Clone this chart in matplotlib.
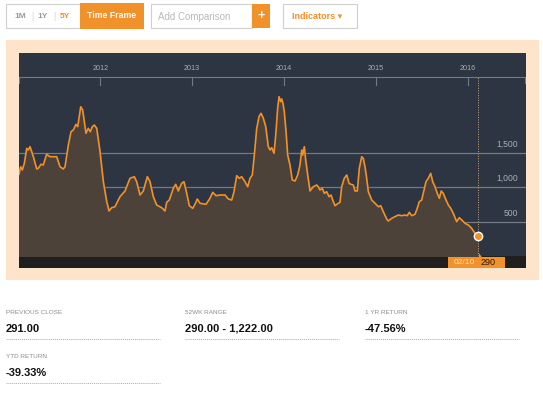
import matplotlib.pyplot as plt
import numpy as np
from matplotlib.patches import Rectangle, Polygon

plt.rcParams["font.family"] = ["Liberation Sans", "DejaVu Sans"]

# price series, decimal years (Feb 2011 - Feb 2016)
years = [
    2011.115, 2011.133, 2011.151, 2011.173, 2011.199, 2011.216, 2011.235, 2011.271,
    2011.308, 2011.325, 2011.354, 2011.379, 2011.416, 2011.452, 2011.525, 2011.561,
    2011.597, 2011.616, 2011.652, 2011.681, 2011.706, 2011.735, 2011.754, 2011.787,
    2011.808, 2011.826, 2011.844, 2011.869, 2011.891, 2011.913, 2011.935, 2011.961,
    2011.997, 2012.033, 2012.070, 2012.095, 2012.124, 2012.160, 2012.214, 2012.269,
    2012.323, 2012.370, 2012.396, 2012.432, 2012.468, 2012.512, 2012.541, 2012.577,
    2012.614, 2012.668, 2012.704, 2012.723, 2012.751, 2012.795, 2012.821, 2012.849,
    2012.886, 2012.911, 2012.941, 2012.969, 2013.006, 2013.031, 2013.056, 2013.085,
    2013.151, 2013.194, 2013.224, 2013.260, 2013.303, 2013.358, 2013.394, 2013.431,
    2013.456, 2013.485, 2013.513, 2013.539, 2013.575, 2013.605, 2013.630, 2013.655,
    2013.677, 2013.703, 2013.728, 2013.750, 2013.775, 2013.801, 2013.829, 2013.848,
    2013.866, 2013.891, 2013.910, 2013.931, 2013.946, 2013.964, 2013.975, 2013.989,
    2014.003, 2014.022, 2014.040, 2014.065, 2014.090, 2014.120, 2014.149, 2014.174,
    2014.193, 2014.204, 2014.221, 2014.236, 2014.258, 2014.283, 2014.319, 2014.356,
    2014.373, 2014.392, 2014.417, 2014.439, 2014.465, 2014.490, 2014.512, 2014.530,
    2014.555, 2014.591, 2014.610, 2014.628, 2014.656, 2014.683, 2014.708, 2014.729,
    2014.754, 2014.773, 2014.798, 2014.820, 2014.846, 2014.863, 2014.882, 2014.900,
    2014.918, 2014.955, 2014.991, 2015.027, 2015.053, 2015.081, 2015.118, 2015.135,
    2015.172, 2015.208, 2015.244, 2015.281, 2015.317, 2015.342, 2015.364, 2015.390,
    2015.426, 2015.451, 2015.473, 2015.499, 2015.524, 2015.546, 2015.571, 2015.597,
    2015.619, 2015.644, 2015.669, 2015.691, 2015.712, 2015.734, 2015.764, 2015.789,
    2015.815, 2015.843, 2015.880, 2015.908, 2015.935, 2015.971, 2016.007, 2016.043,
    2016.079, 2016.110,
]
prices = [
    1184, 1294, 1246, 1343, 1560, 1536, 1584, 1439,
    1261, 1271, 1329, 1319, 1474, 1439, 1439, 1294,
    1261, 1294, 1608, 1801, 1826, 1908, 1874, 2163,
    2116, 1946, 1778, 1850, 1801, 1874, 1898, 1850,
    1511, 1077, 787, 652, 700, 714, 859, 942,
    1126, 1149, 1077, 884, 942, 1149, 1077, 859,
    739, 700, 652, 778, 811, 981, 1039, 942,
    1053, 1077, 908, 729, 691, 749, 826, 764,
    749, 836, 923, 874, 884, 884, 826, 811,
    932, 1164, 1126, 1149, 1077, 1004, 1126, 1174,
    1463, 1850, 2019, 2068, 1995, 1874, 1584, 1536,
    1570, 1488, 1753, 2140, 2309, 2236, 2275, 2212,
    2091, 1801, 1463, 1319, 1101, 1087, 1174, 1319,
    1536, 1463, 1584, 1391, 1174, 942, 1004, 1029,
    1004, 956, 981, 908, 932, 859, 884, 811,
    729, 764, 778, 1004, 1126, 1174, 1053, 1039,
    1029, 942, 942, 1271, 1439, 1415, 1290, 1126,
    932, 811, 764, 714, 729, 642, 536, 507,
    546, 570, 594, 584, 594, 584, 633, 584,
    604, 691, 787, 811, 956, 1077, 1126, 1198,
    1077, 1004, 908, 836, 942, 908, 811, 739,
    691, 618, 497, 555, 522, 474, 449, 401,
    329, 290,
]
year_ticks = [2012, 2013, 2014, 2015, 2016]
price_ticks = [500, 1000, 1500]
last_label = "02/10"
last_value = "290"

stat_labels = ["PREVIOUS CLOSE", "52WK RANGE", "1 YR RETURN", "YTD RETURN"]
stat_values = ["291.00", "290.00 - 1,222.00", "-47.56%", "-39.33%"]

ORANGE = "#f0912a"
W, H = 543, 396

fig = plt.figure(figsize=(W / 100, H / 100), dpi=100)
fig.patch.set_facecolor("white")

# overlay axes in pixel coords for the page furniture
page = fig.add_axes([0, 0, 1, 1])
page.set_xlim(0, W)
page.set_ylim(H, 0)
page.axis("off")

# toolbar
page.add_patch(Rectangle((6, 4), 74, 24, fc="white", ec="#cfcfcf", lw=0.8))
page.text(20, 16.5, "1M", color="#9a9a9a", fontsize=6, fontweight="bold", ha="center", va="center")
page.text(32, 16.5, "|", color="#d5d5d5", fontsize=6.5, ha="center", va="center")
page.text(42.5, 16.5, "1Y", color="#9a9a9a", fontsize=6, fontweight="bold", ha="center", va="center")
page.text(54, 16.5, "|", color="#d5d5d5", fontsize=6.5, ha="center", va="center")
page.text(65, 16.5, "5Y", color=ORANGE, fontsize=6, fontweight="bold", ha="center", va="center")
page.add_patch(Rectangle((80, 3), 64, 26, fc=ORANGE, ec="none"))
page.text(112, 16, "Time Frame", color="white", fontsize=6.3, fontweight="bold", ha="center", va="center")
page.add_patch(Rectangle((151, 4), 101, 24, fc="white", ec="#cfcfcf", lw=0.8))
page.text(158, 16.5, "Add Comparison", color="#b9b9b9", fontsize=7, ha="left", va="center")
page.add_patch(Rectangle((252, 4), 18, 24, fc=ORANGE, ec="none"))
page.text(261, 16, "+", color="white", fontsize=9, fontweight="bold", ha="center", va="center")
page.add_patch(Rectangle((283, 4), 74, 24, fc="white", ec="#cfcfcf", lw=0.8))
page.text(317, 16.5, "Indicators \u25be", color=ORANGE, fontsize=6.5, fontweight="bold",
          ha="center", va="center")

# peach panel, dark chart box and bottom strip
page.add_patch(Rectangle((6, 40), 533, 240, fc="#fde4ca", ec="none"))
page.add_patch(Rectangle((19, 53), 507, 215, fc="#2c3541", ec="none"))
page.add_patch(Rectangle((19, 256), 507, 12, fc="#1f1f1f", ec="none"))

# stats block
cols = [6, 185, 365, 6]
rows = [0, 0, 0, 1]
for lab, val, cx, r in zip(stat_labels, stat_values, cols, rows):
    y0 = 312.5 + r * 44.5
    page.text(cx, y0, lab, color="#8c8c8c", fontsize=4.6, ha="left", va="center")
    page.text(cx, y0 + 16, val, color="#111111", fontsize=8, fontweight="bold", ha="left", va="center")
    page.plot([cx, cx + 154], [y0 + 26, y0 + 26], color="#aaaaaa", lw=0.7, ls=(0, (1, 1)))

# chart axes: data 0 sits on top of the black strip
ax = fig.add_axes([19 / W, (H - 256) / H, 507 / W, 203 / H])
ax.set_facecolor("none")
px_per_year = 91.85
x0 = 2011 + (19 - 8.45) / px_per_year
x1 = 2011 + (526 - 8.45) / px_per_year
ymax = 203 * 500 / 34.5
ax.set_xlim(x0, x1)
ax.set_ylim(0, ymax)
for s in ax.spines.values():
    s.set_visible(False)
ax.set_xticks([])
ax.set_yticks([])

yv = lambda py: (256 - py) * 500 / 34.5

for t in price_ticks:
    ax.axhline(t, color="#737a83", lw=0.9, zorder=1)
    ax.text(x0 + (518 - 19) / px_per_year, t + 120, f"{t:,}", color="#a9aeb5", fontsize=6.2,
            ha="right", va="center")

# top time axis
ax.axhline(yv(77), color="#737a83", lw=0.8, zorder=1)
for yr in year_ticks:
    ax.plot([yr, yr], [yv(77), yv(85)], color="#737a83", lw=0.8)
    ax.text(yr, yv(68.5), str(yr), color="#a9aeb5", fontsize=5.2, ha="center", va="center")
ax.plot([x0 + 0.002, x0 + 0.002], [yv(77), yv(83)], color="#737a83", lw=0.8)
ax.plot([x1 - 0.01, x1 - 0.01], [yv(77), yv(83)], color="#737a83", lw=0.8)

ax.fill_between(years, prices, 0, color="#4c4239", zorder=2)
ax.plot(years, prices, color=ORANGE, lw=1.2, zorder=3)

# cursor at the last point
xl, yl = years[-1], prices[-1]
ax.plot([xl, xl], [0, yv(77)], color="#c9a27a", lw=0.7, ls=(0, (1, 1.5)), zorder=3)
ax.plot(xl, yl, "o", ms=6, mfc=ORANGE, mec="white", mew=1.0, zorder=5)

xp = 8.45 + (xl - 2011) * px_per_year
page.add_patch(Rectangle((448, 256.5), 57, 11.5, fc=ORANGE, ec="none", zorder=5))
page.add_patch(Polygon([[xp - 4, 257], [xp + 4, 257], [xp, 251.5]], closed=True, fc=ORANGE,
                       ec="none", zorder=5))
page.text(xp - 3, 262.5, last_label, color="#fde4ca", fontsize=6, ha="right", va="center", zorder=6)
page.text(xp + 3, 262.5, last_value, color="#2a1a0a", fontsize=6.5, ha="left", va="center", zorder=6)
page.set_zorder(0)
ax.set_zorder(1)

fig.savefig("out.png", dpi=100)
